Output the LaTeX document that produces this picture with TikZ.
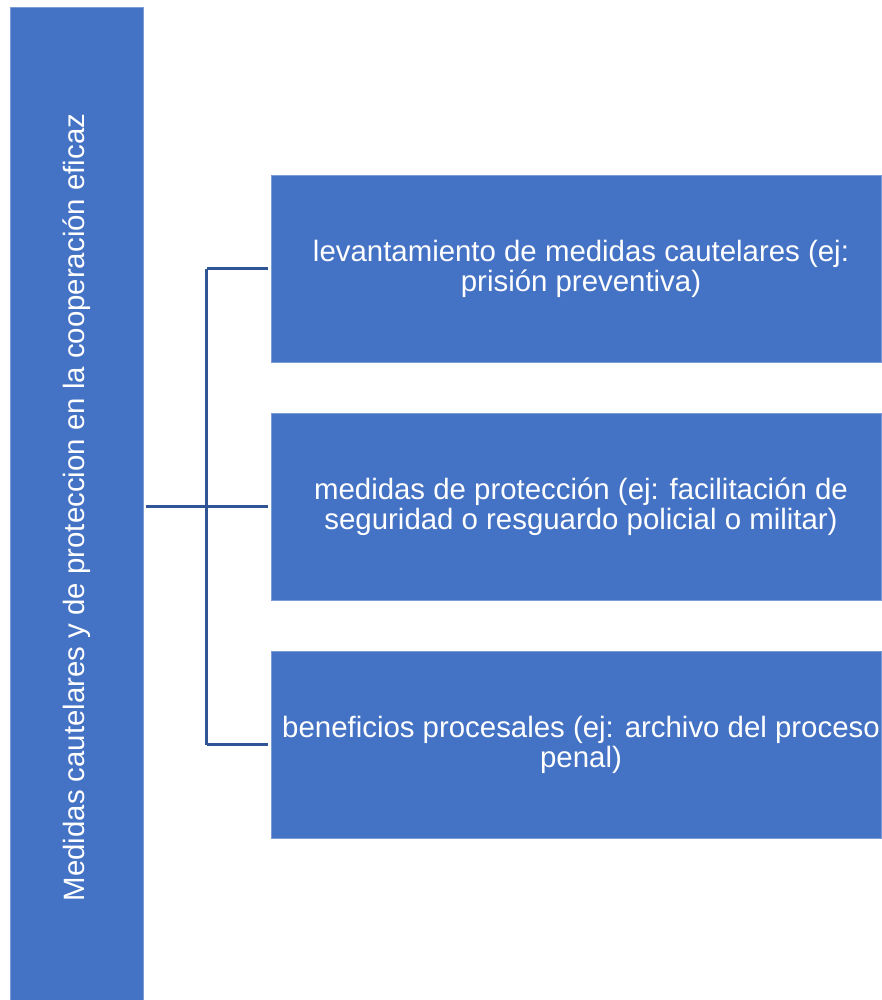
\documentclass[tikz,border=0pt]{standalone}
\usepackage{fontspec}
\setmainfont{Liberation Sans}
\definecolor{boxblue}{HTML}{4472C4}
\definecolor{lineblue}{HTML}{2F5597}
\begin{document}
\begin{tikzpicture}[x=1pt,y=-1pt,
  bluebox/.style={fill=boxblue,draw=boxblue!70!white,line width=0.6pt,inner sep=0pt},
  boxtext/.style={text=white,align=center,inner sep=0pt,font=\fontsize{29.4}{30}\selectfont},
  conn/.style={draw=lineblue,line width=2.6pt}]
\useasboundingbox (0,0) rectangle (881,1000);
\node[bluebox,minimum width=133.5pt,minimum height=993pt] (main) at (76.75,503.5) {};
\node[boxtext,rotate=90] (mainlabel) at ([yshift=-4pt]main.center) {Medidas cautelares y de proteccion en la cooperación eficaz};
\node[bluebox,minimum width=610pt,minimum height=187pt] (b1) at (576,268.5) {};
\node[bluebox,minimum width=610pt,minimum height=187pt] (b2) at (576,506.5) {};
\node[bluebox,minimum width=610pt,minimum height=187pt] (b3) at (576,744.5) {};
\node[boxtext] (t1) at ([xshift=5pt]b1.center) {levantamiento de medidas cautelares (ej:\\prisión preventiva)};
\node[boxtext] (t2) at ([xshift=5pt]b2.center) {medidas de protección (ej: facilitación de\\seguridad o resguardo policial o militar)};
\node[boxtext] (t3) at ([xshift=5pt]b3.center) {beneficios procesales (ej: archivo del proceso\\penal)};
\coordinate (j) at (206.7,506.5);
\draw[conn] ([xshift=2pt]main.east |- j) -- (j);
\draw[conn] (j |- b1.west) -- (j |- b3.west);
\draw[conn] (j |- b1.west) -- ([xshift=-3pt]b1.west);
\draw[conn] (j) -- ([xshift=-3pt]b2.west);
\draw[conn] (j |- b3.west) -- ([xshift=-3pt]b3.west);
\end{tikzpicture}
\end{document}
